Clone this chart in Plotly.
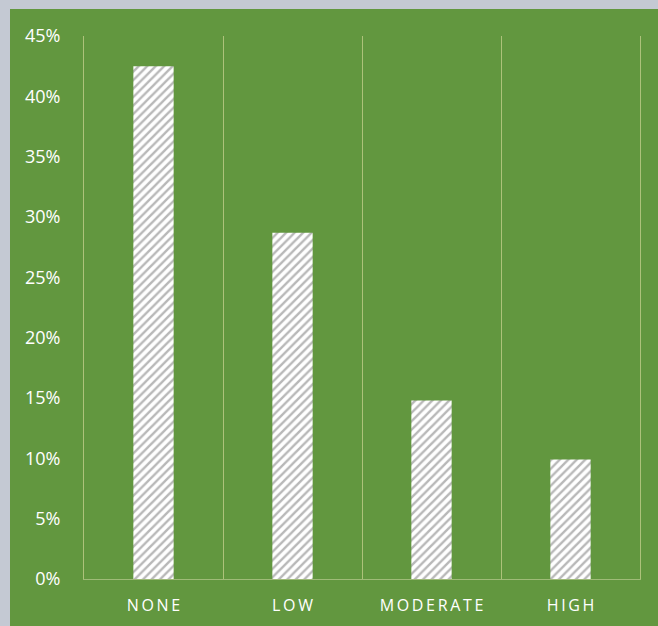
import plotly.graph_objects as go

# Share of respondents by level
categories = ["NONE", "LOW", "MODERATE", "HIGH"]
shares = [42.5, 28.7, 14.8, 9.9]
y_ticks = [0, 5, 10, 15, 20, 25, 30, 35, 40, 45]
y_tick_text = [f"{v}%" for v in y_ticks]

GREEN = "#62973f"
GRID = "#adc27a"
THIN = "\u2009"

def spaced(label):
    return THIN.join(label)

W, H = 658, 626
L, R, T, B = 84, 18, 36, 47
pw, ph = W - L - R, H - T - B

fig = go.Figure(
    go.Bar(
        x=categories,
        y=shares,
        marker=dict(
            color="white",
            line=dict(width=0),
            pattern=dict(shape="/", fgcolor="#727272", bgcolor="white",
                         size=6, solidity=0.4, fillmode="overlay"),
        ),
        hoverinfo="skip",
    )
)

# green panel sitting on the lighter backing
fig.add_shape(
    type="rect", xref="paper", yref="paper", layer="below",
    x0=(10 - L) / pw, x1=(W - L) / pw,
    y0=-B / ph - 0.001, y1=((H - B) - 9) / ph,
    fillcolor=GREEN, line=dict(width=0),
)

fig.update_layout(
    width=W, height=H,
    margin=dict(l=L, r=R, t=T, b=B),
    paper_bgcolor="#c4c9d3",
    plot_bgcolor="rgba(0,0,0,0)",
    bargap=0.71,
    showlegend=False,
    font=dict(family="Open Sans, Lato, sans-serif", color="white"),
    xaxis=dict(
        type="category",
        automargin=False,
        tickmode="array",
        tickvals=categories,
        ticktext=[spaced(c) for c in categories],
        tickson="boundaries",
        showgrid=True,
        gridcolor=GRID,
        gridwidth=1,
        showline=True,
        linecolor="#9fbb78",
        linewidth=1,
        ticks="",
        ticklabelstandoff=12,
        tickfont=dict(size=16, color="white"),
        range=[-0.5, 3.5],
        zeroline=False,
    ),
    yaxis=dict(
        automargin=False,
        range=[0, 45],
        tickmode="array",
        tickvals=y_ticks,
        ticktext=y_tick_text,
        showgrid=False,
        zeroline=False,
        showline=True,
        mirror=True,
        linecolor=GRID,
        linewidth=1,
        ticks="",
        ticklabelstandoff=19,
        tickfont=dict(size=18, color="white"),
    ),
)

fig.write_html("out.html")
